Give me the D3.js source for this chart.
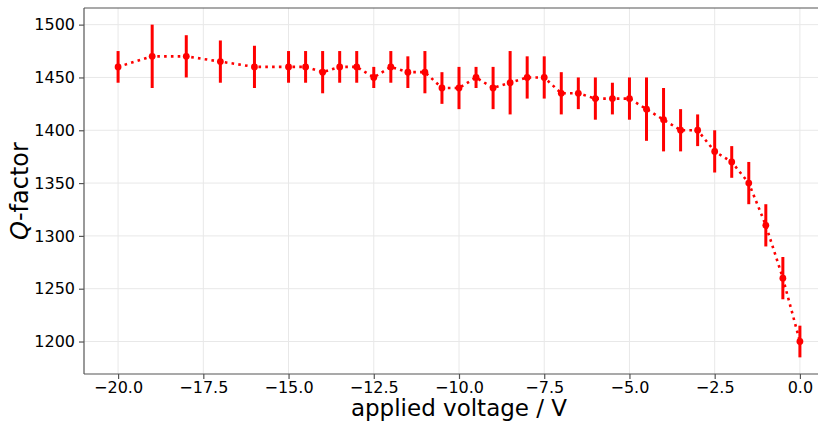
<!DOCTYPE html>
<html>
<head>
<meta charset="utf-8">
<script src="https://cdn.jsdelivr.net/npm/d3@7"></script>
<style>
	body { margin: 0; background: #fff; }
	text { font-family: "DejaVu Sans", sans-serif; fill: #000; }
</style>
</head>
<body>
<svg width="818" height="424"></svg>
<script>
// applied voltage (V), Q-factor and its error
var voltage = [-20, -19, -18, -17, -16, -15, -14.5, -14, -13.5, -13, -12.5, -12, -11.5, -11,
			   -10.5, -10, -9.5, -9, -8.5, -8, -7.5, -7, -6.5, -6, -5.5, -5, -4.5, -4,
			   -3.5, -3, -2.5, -2, -1.5, -1, -0.5, 0];
var qFactor = [1460, 1470, 1470, 1465, 1460, 1460, 1460, 1455, 1460, 1460, 1450, 1460, 1455, 1455,
			   1440, 1440, 1450, 1440, 1445, 1450, 1450, 1435, 1435, 1430, 1430, 1430, 1420, 1410,
			   1400, 1400, 1380, 1370, 1350, 1310, 1260, 1200];
var qErr = [15, 30, 20, 20, 20, 15, 15, 20, 15, 15, 10, 15, 15, 20,
			15, 20, 10, 20, 30, 20, 20, 20, 15, 20, 15, 20, 30, 30,
			20, 15, 20, 15, 20, 20, 20, 15];

var xTicks = [-20, -17.5, -15, -12.5, -10, -7.5, -5, -2.5, 0];
var yTicks = [1200, 1250, 1300, 1350, 1400, 1450, 1500];

svg = d3.select("svg");
left = 84; right = 834; top_ = 8; bottom = 374;

x = d3.scaleLinear()
		.domain([-21, 1])
		.range([left, right])
;
y = d3.scaleLinear()
		.domain([1169.25, 1515.75])
		.range([bottom, top_])
;

// grid
grid = svg.append("g").attr("class", "grid");
xTicks.forEach(function(t) {
	grid.append("line")
			.attr("x1", x(t)).attr("x2", x(t))
			.attr("y1", top_).attr("y2", bottom)
			.attr("stroke", "#e8e8e8")
			.attr("stroke-width", 1)
	;
});
yTicks.forEach(function(t) {
	grid.append("line")
			.attr("x1", left).attr("x2", right)
			.attr("y1", y(t)).attr("y2", y(t))
			.attr("stroke", "#e8e8e8")
			.attr("stroke-width", 1)
	;
});

// axes
axisX = svg.append("g")
			.attr("transform", "translate(" + [0, bottom] + ")")
			.call(d3.axisBottom(x).tickValues(xTicks).tickSize(5).tickPadding(3)
				.tickFormat(function(d) { return d3.format(".1f")(d).replace("-", "\u2212"); }))
;
axisY = svg.append("g")
			.attr("transform", "translate(" + [left, 0] + ")")
			.call(d3.axisLeft(y).tickValues(yTicks).tickSize(5).tickPadding(4)
				.tickFormat(d3.format("d")))
;
[axisX, axisY].forEach(function(a) {
	a.select(".domain").remove();
	a.selectAll(".tick line").attr("stroke", "#555").attr("stroke-width", 1.2);
	a.selectAll(".tick text")
		.style("font-family", "DejaVu Sans")
		.style("font-size", "16px")
		.attr("fill", "#000");
});

// spines
svg.append("line")
		.attr("x1", left).attr("x2", left).attr("y1", top_).attr("y2", bottom)
		.attr("stroke", "#555").attr("stroke-width", 1.2);
svg.append("line")
		.attr("x1", left).attr("x2", right).attr("y1", bottom).attr("y2", bottom)
		.attr("stroke", "#555").attr("stroke-width", 1.2);
svg.append("line")
		.attr("x1", left).attr("x2", right).attr("y1", top_).attr("y2", top_)
		.attr("stroke", "#555").attr("stroke-width", 1.2);

// data
points = voltage.map(function(v, i) { return [v, qFactor[i], qErr[i]]; });

line = d3.line()
			.x(function(d) { return x(d[0]); })
			.y(function(d) { return y(d[1]); })
;
plot = svg.append("g").attr("class", "data");

plot.append("path")
		.attr("d", line(points))
		.attr("fill", "none")
		.attr("stroke", "#ff0000")
		.attr("stroke-width", 2.6)
		.attr("stroke-dasharray", "2.6 4.2")
;
plot.selectAll(".err")
		.data(points)
		.enter().append("line")
			.attr("class", "err")
			.attr("x1", function(d) { return x(d[0]); })
			.attr("x2", function(d) { return x(d[0]); })
			.attr("y1", function(d) { return y(d[1] - d[2]); })
			.attr("y2", function(d) { return y(d[1] + d[2]); })
			.attr("stroke", "#ff0000")
			.attr("stroke-width", 3)
;
plot.selectAll(".pt")
		.data(points)
		.enter().append("circle")
			.attr("class", "pt")
			.attr("cx", function(d) { return x(d[0]); })
			.attr("cy", function(d) { return y(d[1]); })
			.attr("r", 3.4)
			.attr("fill", "#ff0000")
;

// labels
svg.append("text")
		.attr("x", (left + right) / 2)
		.attr("y", 416)
		.attr("text-anchor", "middle")
		.style("font-size", "23px")
		.text("applied voltage / V")
;
ylab = svg.append("text")
		.attr("transform", "translate(" + [28, (top_ + bottom) / 2] + ") rotate(-90)")
		.attr("text-anchor", "middle")
		.style("font-size", "24px")
;
ylab.append("tspan").style("font-style", "italic").text("Q");
ylab.append("tspan").text("-factor");
</script>
</body>
</html>
